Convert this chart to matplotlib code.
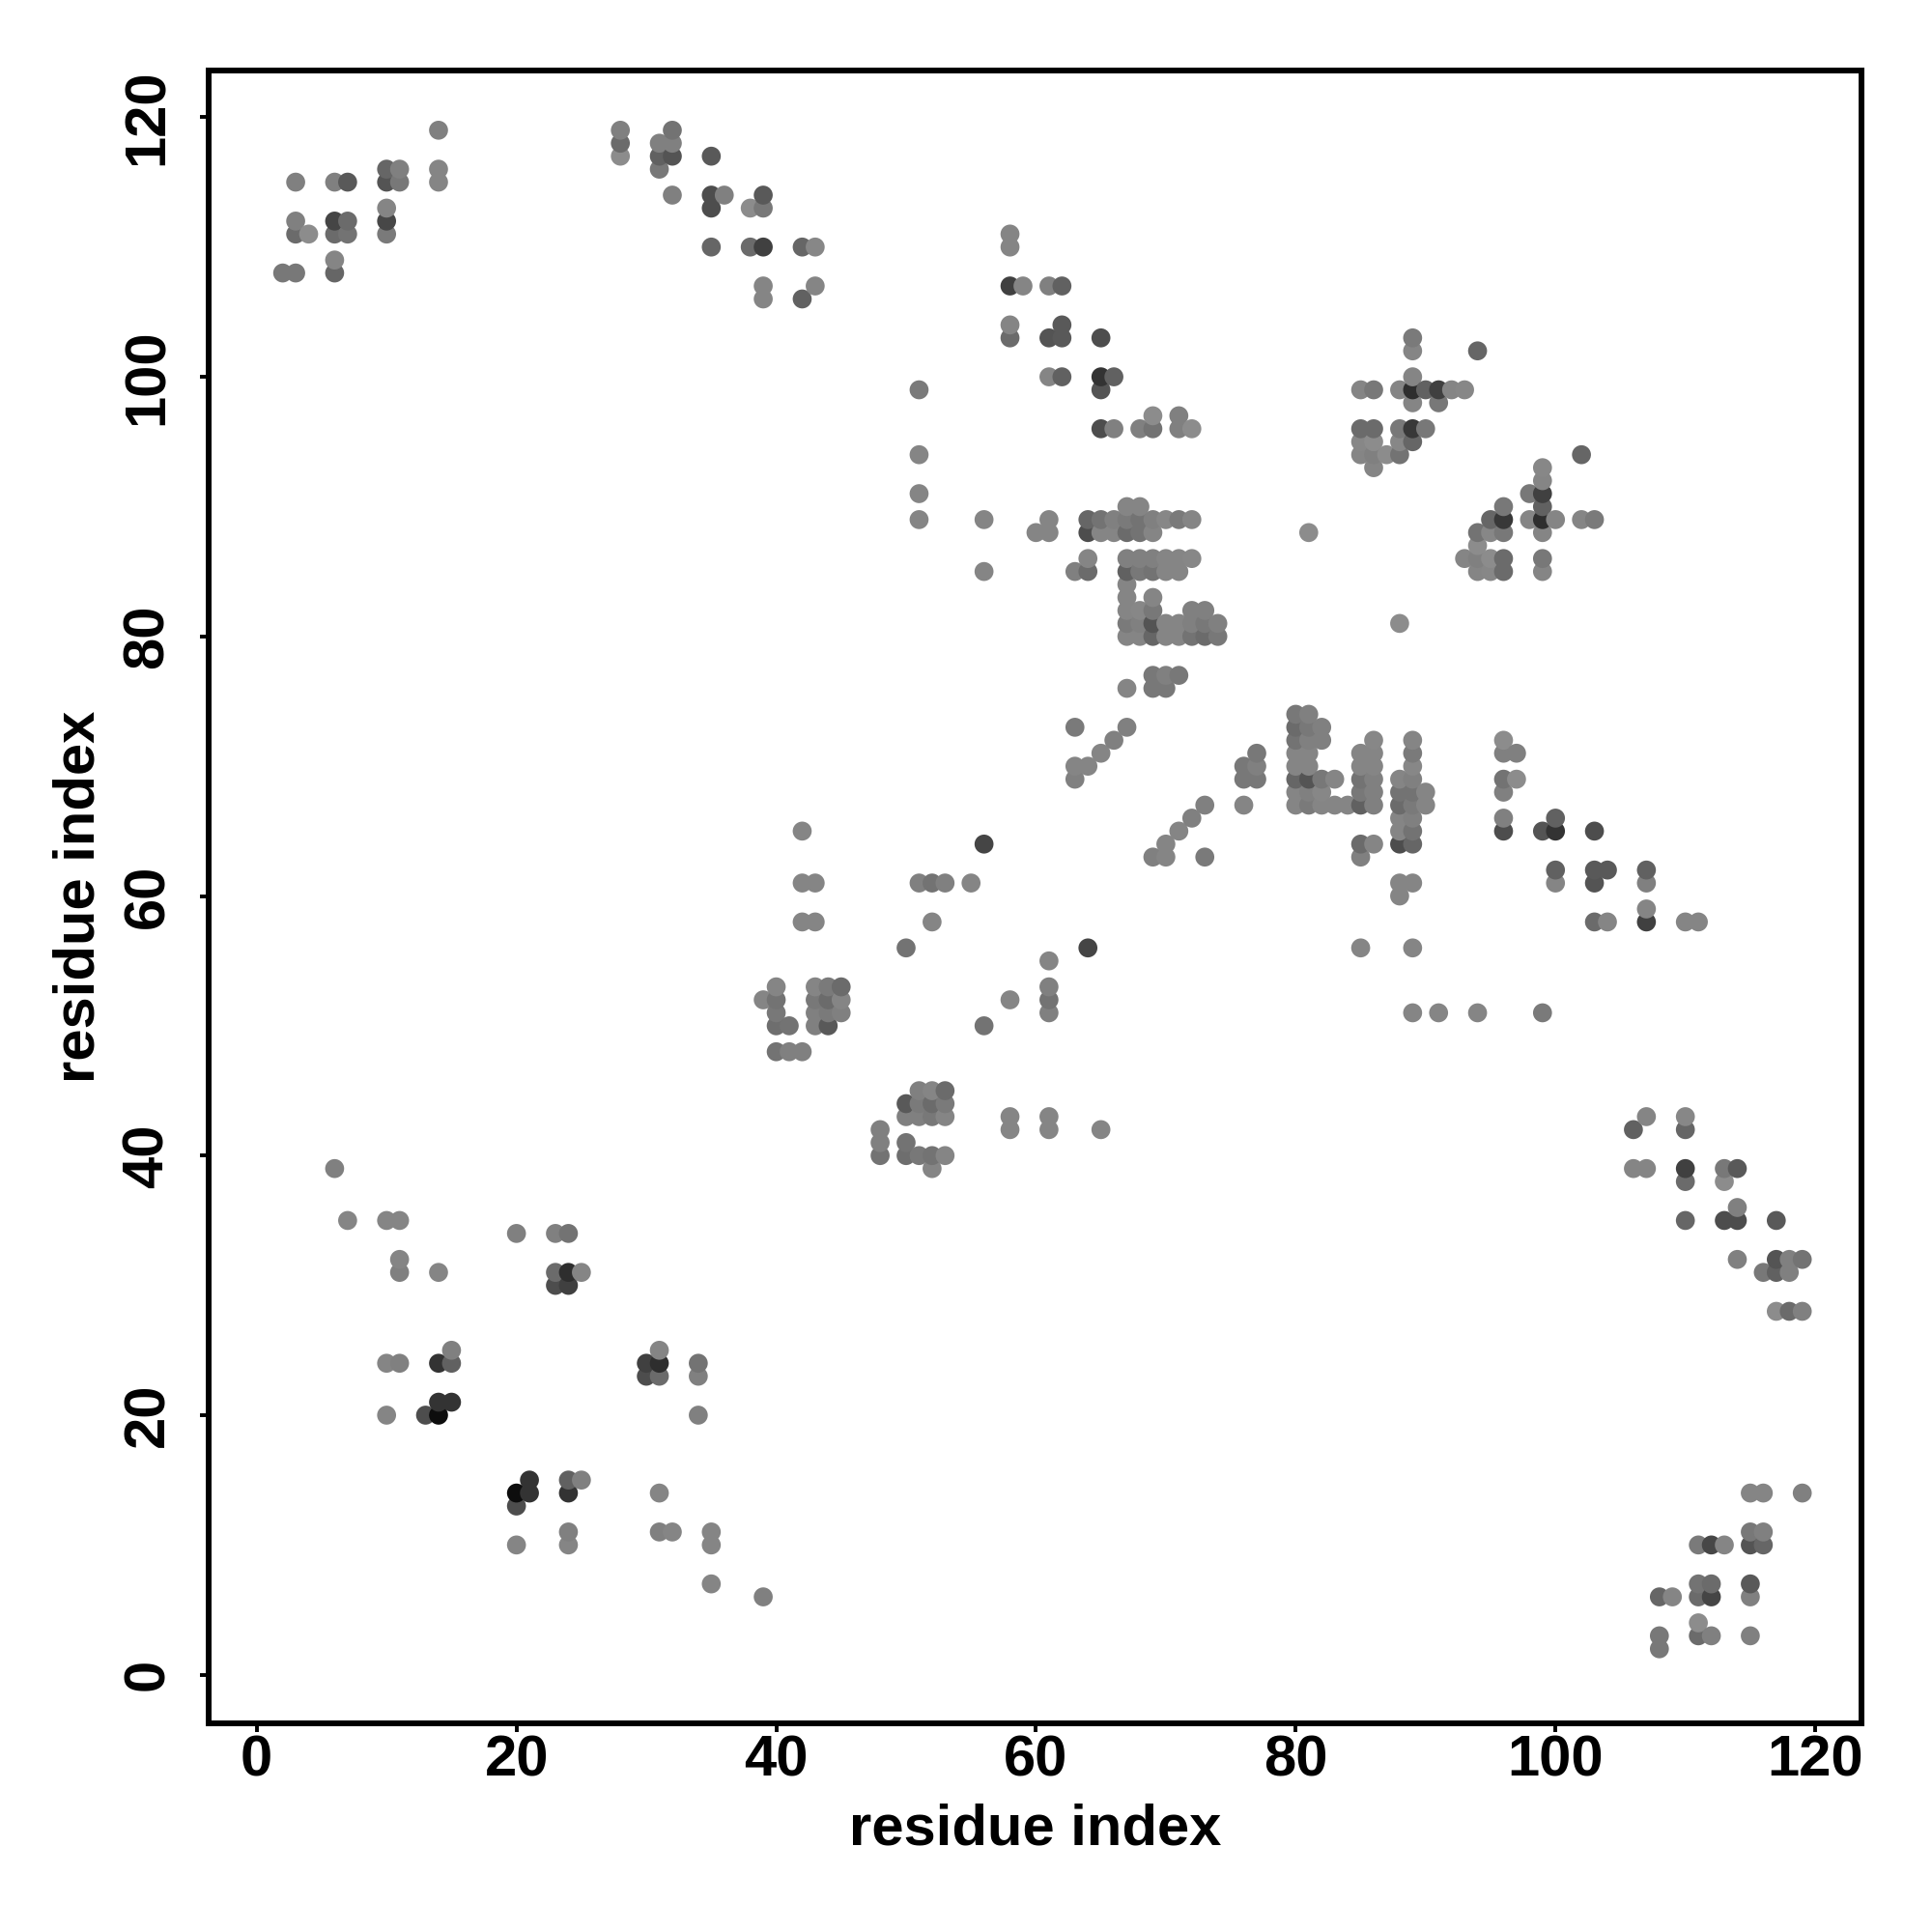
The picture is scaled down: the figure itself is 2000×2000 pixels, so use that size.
# contact map, residue vs residue, symmetric so only the i<j half is listed
import numpy as np
import matplotlib
matplotlib.use("Agg")
import matplotlib.pyplot as plt

plt.rcParams['font.family'] = ['Liberation Sans', 'DejaVu Sans']

res_i = [2,
         3, 3, 3, 3,
         4,
         6, 6, 6, 6, 6, 6,
         7, 7, 7, 7,
         10, 10, 10, 10, 10, 10, 10, 10,
         11, 11, 11, 11, 11, 11,
         13,
         14, 14, 14, 14, 14, 14, 14,
         15, 15, 15,
         20,
         23, 23, 23,
         24, 24, 24,
         25,
         28, 28, 28,
         31, 31, 31,
         32, 32, 32, 32,
         35, 35, 35, 35,
         36,
         38, 38,
         39, 39, 39, 39, 39, 39,
         40, 40, 40, 40, 40,
         41, 41,
         42, 42, 42, 42, 42, 42,
         43, 43, 43, 43, 43, 43, 43, 43,
         44, 44, 44, 44,
         45, 45, 45,
         50,
         51, 51, 51, 51, 51,
         52, 52,
         53,
         55,
         56, 56, 56,
         58, 58, 58, 58, 58,
         59,
         60,
         61, 61, 61, 61, 61,
         62, 62, 62, 62,
         63, 63, 63, 63,
         64, 64, 64, 64, 64,
         65, 65, 65, 65, 65, 65, 65,
         66, 66, 66, 66, 66,
         67, 67, 67, 67, 67, 67, 67, 67, 67, 67, 67, 67,
         68, 68, 68, 68, 68, 68, 68, 68, 68,
         69, 69, 69, 69, 69, 69, 69, 69, 69, 69, 69, 69,
         70, 70, 70, 70, 70, 70, 70,
         71, 71, 71, 71, 71, 71, 71, 71,
         72, 72, 72, 72, 72, 72,
         73, 73, 73,
         74, 74,
         81,
         85, 85, 85, 85,
         86, 86, 86, 86, 86,
         87,
         88, 88, 88, 88,
         89, 89, 89, 89, 89, 89, 89,
         90, 90,
         91, 91,
         92,
         93,
         94]

res_j = [108,
         108, 111, 112, 115,
         111,
         39, 108, 109, 111, 112, 115,
         35, 111, 112, 115,
         20, 24, 35, 111, 112, 113, 115, 116,
         24, 31, 32, 35, 115, 116,
         20,
         20, 21, 24, 31, 115, 116, 119,
         21, 24, 25,
         34,
         30, 31, 34,
         30, 31, 34,
         31,
         117, 118, 119,
         116, 117, 118,
         114, 117, 118, 119,
         110, 113, 114, 117,
         114,
         110, 113,
         52, 106, 107, 110, 113, 114,
         48, 50, 51, 52, 53,
         48, 50,
         48, 58, 61, 65, 106, 110,
         50, 51, 52, 53, 58, 61, 107, 110,
         50, 51, 52, 53,
         51, 52, 53,
         56,
         61, 89, 91, 94, 99,
         58, 61,
         61,
         61,
         64, 85, 89,
         103, 104, 107, 110, 111,
         107,
         88,
         88, 89, 100, 103, 107,
         100, 103, 104, 107,
         69, 70, 73, 85,
         70, 85, 86, 88, 89,
         71, 88, 89, 96, 99, 100, 103,
         72, 88, 89, 96, 100,
         73, 76, 80, 81, 82, 83, 84, 85, 86, 88, 89, 90,
         80, 81, 82, 85, 86, 88, 89, 90, 96,
         76, 77, 80, 81, 82, 83, 85, 86, 88, 89, 96, 97,
         76, 77, 80, 81, 85, 86, 89,
         77, 80, 81, 85, 86, 89, 96, 97,
         80, 81, 82, 86, 89, 96,
         80, 81, 82,
         80, 81,
         88,
         94, 95, 96, 99,
         93, 94, 95, 96, 99,
         94,
         94, 95, 96, 99,
         95, 96, 98, 99, 100, 102, 103,
         96, 99,
         98, 99,
         99,
         99,
         102]

# grey level of each contact (0 black, 1 white)
shade = [.47,
         .47, .42, .50, .50,
         .55,
         .50, .40, .52, .42, .27, .50,
         .52, .45, .42, .35,
         .52, .52, .52, .48, .28, .52, .33, .40,
         .50, .50, .52, .52, .47, .50,
         .30,
         .05, .20, .20, .52, .52, .52, .50,
         .20, .38, .50,
         .50,
         .30, .42, .50,
         .25, .18, .45,
         .52,
         .55, .42, .50,
         .47, .38, .50,
         .50, .33, .50, .45,
         .40, .30, .30, .35,
         .50,
         .42, .55,
         .52, .52, .52, .25, .47, .35,
         .45, .43, .47, .45, .52,
         .50, .45,
         .50, .52, .52, .52, .38, .40,
         .50, .50, .47, .52, .52, .52, .52, .53,
         .35, .48, .42, .48,
         .50, .52, .42,
         .45,
         .50, .52, .52, .52, .48,
         .52, .45,
         .50,
         .52,
         .27, .52, .52,
         .42, .52, .25, .52, .52,
         .52,
         .52,
         .52, .52, .52, .33, .50,
         .38, .35, .35, .38,
         .50, .52, .48, .50,
         .52, .42, .52, .30, .40,
         .52, .52, .45, .30, .33, .20, .30,
         .50, .52, .50, .50, .38,
         .50, .52, .52, .48, .52, .52, .52, .38, .50, .42, .48, .52,
         .52, .50, .53, .47, .50, .45, .45, .52, .50,
         .47, .47, .40, .33, .47, .52, .45, .50, .52, .50, .45, .55,
         .47, .50, .52, .52, .52, .52, .53,
         .47, .52, .52, .52, .52, .48, .50, .50,
         .45, .50, .50, .53, .52, .55,
         .42, .47, .50,
         .47, .50,
         .55,
         .52, .53, .42, .52,
         .52, .50, .55, .42, .47,
         .55,
         .45, .53, .47, .52,
         .40, .22, .52, .18, .52, .52, .48,
         .47, .38,
         .47, .25,
         .52,
         .53,
         .40]

ticks = [0, 20, 40, 60, 80, 100, 120]

x = np.concatenate([res_i, res_j])
y = np.concatenate([res_j, res_i])
g = np.concatenate([shade, shade])
order = np.argsort(x, kind="stable")

fig = plt.figure(figsize=(20, 20), dpi=100)
ax = fig.add_axes([216 / 2000, 1 - 1784 / 2000, (1927 - 216) / 2000, (1784 - 73) / 2000])

ax.scatter(x[order], y[order], s=200, c=[str(v) for v in g[order]], linewidths=0, zorder=3, clip_on=False)

ax.set_xlim(-3.70, 123.56)
ax.set_ylim(-3.744, 123.6)
ax.set_xticks(ticks)
ax.set_yticks(ticks)

for s in ax.spines.values():
    s.set_linewidth(4.3)
ax.tick_params(axis='x', length=6.2, width=2.8, pad=2, labelsize=43)
ax.tick_params(axis='y', length=6.2, width=2.8, pad=19, labelsize=43)
for lab in ax.get_xticklabels():
    lab.set_fontweight('bold')
for lab in ax.get_yticklabels():
    lab.set_fontweight('bold')
    lab.set_rotation(90)
    lab.set_verticalalignment('center')

fig.text(1072 / 2000, 1 - 1894 / 2000, "residue index", fontsize=43, fontweight='bold', ha='center', va='center')
fig.text(82 / 2000, 1 - 928 / 2000, "residue index", fontsize=43, fontweight='bold', rotation=90, ha='center', va='center')

fig.savefig("out.png", dpi=100, facecolor="white")
